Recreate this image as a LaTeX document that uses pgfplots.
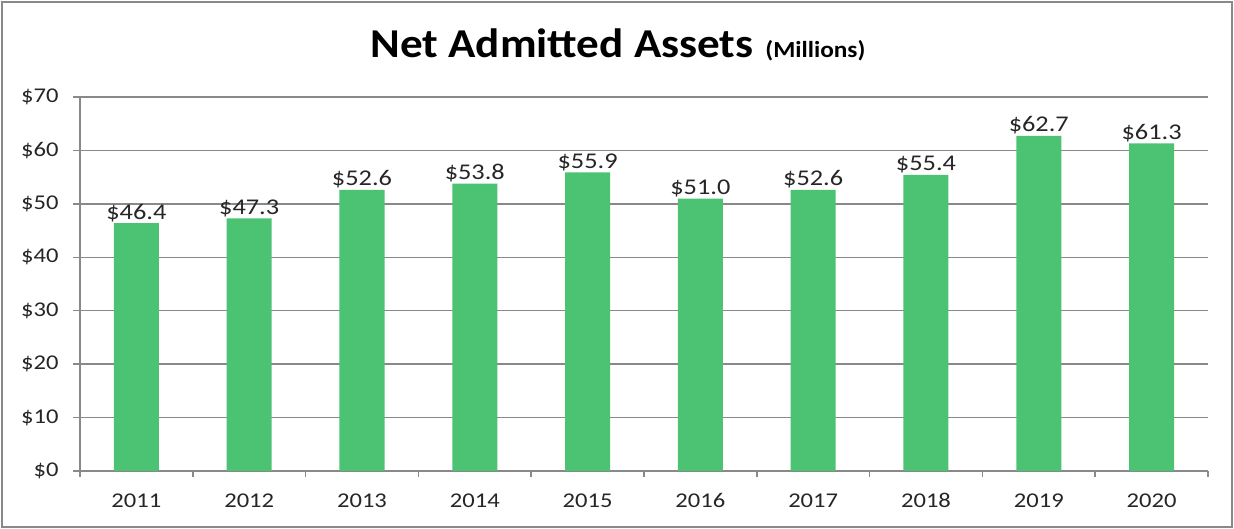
\documentclass[border=0pt]{standalone}
\usepackage{pgfplots}
\pgfplotsset{compat=1.18}
\usepackage{fontspec}
\setmainfont{Carlito}[FakeStretch=1.17]
\newfontfamily\titlefont{Carlito}[FakeStretch=1.1]
\definecolor{barg}{HTML}{4BC373}
\definecolor{gridg}{HTML}{898989}
\definecolor{txt}{HTML}{262626}
\begin{document}
\begin{tikzpicture}[x=1bp,y=1bp]
\useasboundingbox (0,0) rectangle (1234,529);
\draw[gridg,line width=2bp] (2,2) rectangle (1232,527);
\node[black,anchor=base] at (618,471) {\titlefont\bfseries\fontsize{41bp}{43bp}\selectfont Net Admitted Assets\hspace{12bp}\fontsize{23bp}{25bp}\selectfont(Millions)};
\begin{axis}[
  at={(80bp,58bp)}, anchor=south west,
  scale only axis, width=1128bp, height=374bp,
  xmin=-0.5, xmax=9.5, ymin=0, ymax=70,
  axis x line*=bottom, axis y line*=left,
  axis line style={gridg,line width=1.5bp},
  ytick={0,10,...,70},
  ymajorgrids, grid style={gridg,line width=1.5bp},
  xtick={0,...,9},
  xticklabels={2011,2012,2013,2014,2015,2016,2017,2018,2019,2020},
  minor xtick={-0.5,0.5,...,9.5},
  major x tick style={draw=none},
  minor tick length=6bp,
  major tick length=7bp,
  tick align=outside,
  tick style={gridg,line width=1.5bp},
  y tick style={gridg,line width=1.5bp},
  yticklabel={\$\pgfmathprintnumber{\tick}},
  /pgf/number format/assume math mode=true,
  ticklabel style={font=\fontsize{21bp}{23bp}\selectfont, text=txt},
  xticklabel style={yshift=-12bp},
  yticklabel style={xshift=-11bp},
  nodes near coords={\$\pgfmathprintnumber[fixed,fixed zerofill,precision=1]{\pgfplotspointmeta}},
  nodes near coords style={font=\fontsize{22.5bp}{24bp}\selectfont, text=txt, anchor=base, yshift=4bp},
  clip=false,
]
\addplot[ybar, bar width=45bp, fill=barg, draw=none] coordinates {
(0,46.4) (1,47.3) (2,52.6) (3,53.8) (4,55.9) (5,51.0) (6,52.6) (7,55.4) (8,62.7) (9,61.3)
};
\end{axis}
\end{tikzpicture}
\end{document}
